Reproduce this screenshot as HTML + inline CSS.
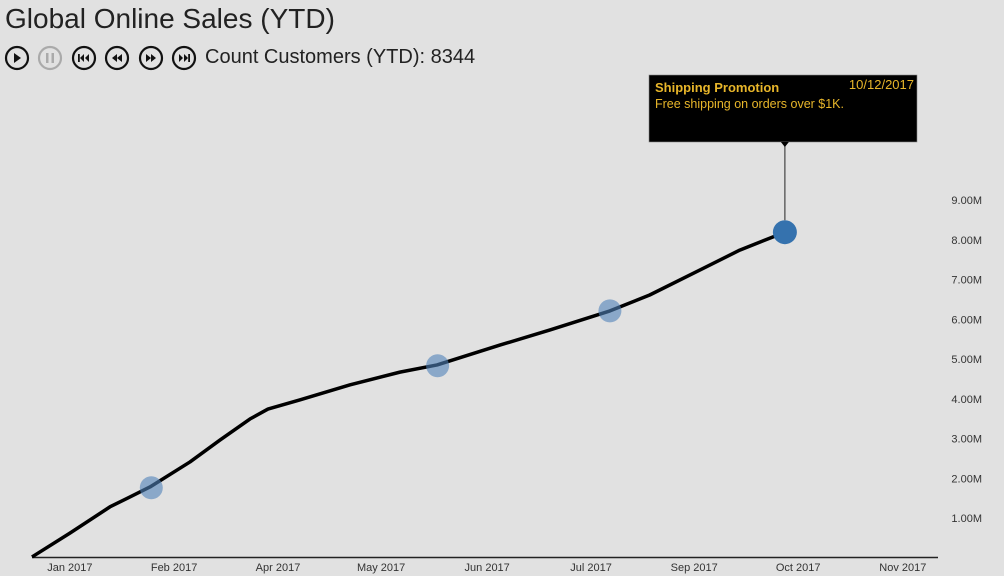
<!DOCTYPE html>
<html><head><meta charset="utf-8"><style>
body{margin:0;width:1004px;height:576px;background:#e1e1e1;font-family:"Liberation Sans",sans-serif;overflow:hidden;position:relative}
#title{position:absolute;left:5px;top:3px;font-size:28px;color:#222}
#cc{position:absolute;left:205px;top:46px;font-size:20px;color:#222}
</style></head><body>
<div id="title">Global Online Sales (YTD)</div>
<svg width="200" height="30" style="position:absolute;left:0;top:44px">
<g><circle cx="17" cy="14" r="11" fill="none" stroke="#111" stroke-width="2.2"/><path d="M14 9 L21 14 L14 19Z" fill="#111"/></g>
<g><circle cx="50" cy="14" r="11" fill="none" stroke="#aaa" stroke-width="2.2"/><rect x="46" y="9" width="2.5" height="10" fill="#aaa"/><rect x="51.5" y="9" width="2.5" height="10" fill="#aaa"/></g>
<g><circle cx="84" cy="14" r="11" fill="none" stroke="#111" stroke-width="2.2"/><rect x="78" y="10" width="1.8" height="8" fill="#111"/><path d="M84 10 L80 14 L84 18Z M89 10 L85 14 L89 18Z" fill="#111"/></g>
<g><circle cx="117" cy="14" r="11" fill="none" stroke="#111" stroke-width="2.2"/><path d="M117 10 L112 14 L117 18Z M122 10 L117 14 L122 18Z" fill="#111"/></g>
<g><circle cx="151" cy="14" r="11" fill="none" stroke="#111" stroke-width="2.2"/><path d="M146 10 L151 14 L146 18Z M151 10 L156 14 L151 18Z" fill="#111"/></g>
<g><circle cx="184" cy="14" r="11" fill="none" stroke="#111" stroke-width="2.2"/><path d="M179 10 L183 14 L179 18Z M184 10 L188 14 L184 18Z" fill="#111"/><rect x="188.2" y="10" width="1.8" height="8" fill="#111"/></g>
</svg>
<div id="cc">Count Customers (YTD): 8344</div>
<svg id="chart" width="1004" height="576" style="position:absolute;left:0;top:0"></svg>
<script>
const days=[0,14.3,29.4,44.5,59.6,70.9,82.2,89,101,120,138.8,152.8,176.5,195.4,218,233,252,267,284];
const sales=[0.02,0.62,1.28,1.78,2.41,2.96,3.49,3.74,3.97,4.35,4.67,4.85,5.35,5.73,6.21,6.61,7.24,7.74,8.19];
const eventDays=[45,153,218,284];
const eventSales=[1.76,4.83,6.21,8.19];
const xTickDays=[14.3,53.6,92.8,131.7,171.7,210.9,249.8,289,328.5];
const xTickLabels=["Jan 2017","Feb 2017","Apr 2017","May 2017","Jun 2017","Jul 2017","Sep 2017","Oct 2017","Nov 2017"];
const yTicks=[1,2,3,4,5,6,7,8,9];
const NS="http://www.w3.org/2000/svg";
const svg=document.getElementById('chart');
const xs=d=>32+d*2.651;
const ys=v=>557.75-v*39.75;
function mk(t,a){const e=document.createElementNS(NS,t);for(const k in a)e.setAttribute(k,a[k]);svg.appendChild(e);return e;}
let ax=mk('line',{x1:32,x2:938,y1:557.5,y2:557.5,stroke:'#222','stroke-width':1.5});


xTickDays.forEach((d,i)=>{const t=mk('text',{x:xs(d),y:571,'text-anchor':'middle','font-size':11,fill:'#333'});t.textContent=xTickLabels[i];

});
yTicks.forEach(v=>{const t=mk('text',{x:982,y:ys(v)+4,'text-anchor':'end','font-size':11,fill:'#333'});t.textContent=v.toFixed(2)+'M';

});
let p=mk('polyline',{points:days.map((d,i)=>xs(d)+','+ys(sales[i])).join(' '),fill:'none',stroke:'#000','stroke-width':3.5,'stroke-linejoin':'round'});


eventDays.forEach((d,i)=>{const last=i===eventDays.length-1;
const c=mk('circle',{cx:xs(d),cy:ys(eventSales[i]),r:last?12:11.5,fill:last?'#3572ae':'rgba(80,130,185,0.6)'});

});
const lx=xs(eventDays[3]),ly=ys(eventSales[3]);
let ll=mk('line',{x1:lx,x2:lx,y1:142,y2:ly-12,stroke:'#444','stroke-width':1.2});


let tb=mk('rect',{x:649,y:75,width:268,height:67,fill:'#000',stroke:'#888','stroke-width':0.6});


mk('path',{d:`M${lx-4} 142 L${lx+4} 142 L${lx} 147 Z`,fill:'#000'});
let t1=mk('text',{x:655,y:92,'font-size':13,'font-weight':'bold',fill:'#e8b62a'});t1.textContent='Shipping Promotion';


let t2=mk('text',{x:914,y:89,'text-anchor':'end','font-size':13,fill:'#e8b62a'});t2.textContent='10/12/2017';


let t3=mk('text',{x:655,y:108,'font-size':12.5,fill:'#e8b62a'});t3.textContent='Free shipping on orders over $1K.';


</script>
</body></html>
